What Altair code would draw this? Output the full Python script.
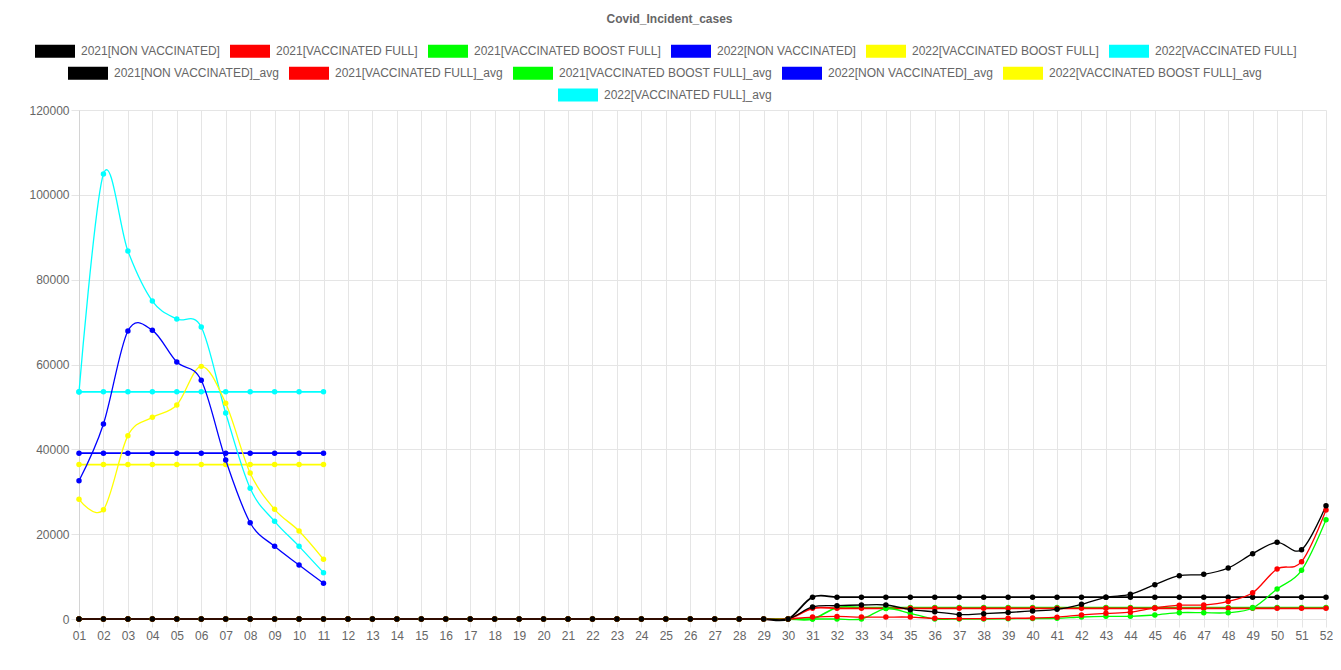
import altair as alt
import pandas as pd

WEEKS = ["01", "02", "03", "04", "05", "06", "07", "08", "09", "10",
         "11", "12", "13", "14", "15", "16", "17", "18", "19", "20",
         "21", "22", "23", "24", "25", "26", "27", "28", "29", "30",
         "31", "32", "33", "34", "35", "36", "37", "38", "39", "40",
         "41", "42", "43", "44", "45", "46", "47", "48", "49", "50",
         "51", "52"]

DATA_NAMES = ["2021[NON VACCINATED]", "2021[VACCINATED FULL]", "2021[VACCINATED BOOST FULL]",
              "2022[NON VACCINATED]", "2022[VACCINATED BOOST FULL]", "2022[VACCINATED FULL]"]
AVG_NAMES = [n + "_avg" for n in DATA_NAMES]
COLORS = ["#000000", "#ff0000", "#00ff00", "#0000ff", "#ffff00", "#00ffff"]

Z30 = [0] * 30
# 2021 series (weeks 01-52)
nv2021 = Z30 + [2830, 3140, 3300, 3300, 2200, 1700, 1050, 1250, 1530, 1900, 2280, 3460,
                5120, 5820, 8090, 10210, 10530, 12020, 15400, 18070, 16340, 26710]
vf2021 = Z30 + [450, 600, 450, 450, 450, 150, 100, 100, 160, 240, 430, 950,
                1330, 1600, 2600, 3250, 3300, 4150, 6170, 11790, 13510, 25700]
vbf2021 = Z30 + [0, 0, 0, 2450, 1340, 0, 0, 0, 50, 100, 160, 470,
                 630, 630, 940, 1490, 1490, 1490, 2590, 7070, 11480, 23400]
# 2022 series (weeks 01-11 only)
nv2022 = [32600, 45970, 67900, 68050, 60580, 56270, 37480, 22700, 17130, 12730, 8410]
vbf2022 = [28210, 25770, 43220, 47540, 50450, 59560, 50840, 34420, 25850, 20740, 14070]
vf2022 = [53500, 104900, 86750, 74960, 70720, 68840, 48560, 30800, 23030, 17130, 10920]

# averages
nv2021_avg = Z30 + [5150] * 22
vf2021_avg = Z30 + [2520] * 22
vbf2021_avg = Z30 + [0] + [2700] * 21
nv2022_avg = [39100] * 11
vbf2022_avg = [36400] * 11
vf2022_avg = [53550] * 11

DATA_SERIES = [nv2021, vf2021, vbf2021, nv2022, vbf2022, vf2022]
AVG_SERIES = [nv2021_avg, vf2021_avg, vbf2021_avg, nv2022_avg, vbf2022_avg, vf2022_avg]


def frame(names, series):
    rows = []
    # reverse order so the first dataset is drawn on top (as in Chart.js)
    for name, vals in reversed(list(zip(names, series))):
        for w, v in zip(WEEKS, vals):
            if v is not None:
                rows.append({"series": name, "week": w, "value": v})
    return pd.DataFrame(rows)


data_df = frame(DATA_NAMES, DATA_SERIES)
avg_df = frame(AVG_NAMES, AVG_SERIES)
avg_df_a = avg_df[avg_df["series"].isin(AVG_NAMES[:5])]
avg_df_b = avg_df[avg_df["series"] == AVG_NAMES[5]]

FONT = "Liberation Sans"
GRID = "#e5e5e5"
RECT = "M-1,-0.325H1V0.325H-1Z"

x_enc = alt.X("week:O", sort=WEEKS,
              scale=alt.Scale(type="point", padding=0),
              axis=alt.Axis(title=None, labelAngle=0, grid=True, gridColor=GRID,
                            tickColor=GRID, tickSize=8, labelPadding=3,
                            labelFont=FONT, labelFontSize=12, labelColor="#666",
                            domain=False))
y_enc = alt.Y("value:Q",
              scale=alt.Scale(domain=[0, 120000], nice=False),
              axis=alt.Axis(title=None, values=[0, 20000, 40000, 60000, 80000, 100000, 120000],
                            format="d", grid=True, gridColor=GRID, tickColor=GRID,
                            tickSize=8, labelPadding=2, labelFont=FONT, labelFontSize=12,
                            labelColor="#666", domainColor="#d4d4d4"))


def legend(x, y):
    return alt.Legend(orient="none", legendX=x, legendY=y, direction="horizontal",
                      title=None, symbolType=RECT, symbolSize=1600, symbolStrokeWidth=0,
                      symbolOpacity=1, labelFont=FONT, labelFontSize=12, labelColor="#666",
                      labelOffset=6, columnPadding=10, labelLimit=400, padding=0)


def color(names, colors, leg):
    return alt.Color("series:N", scale=alt.Scale(domain=names, range=colors), legend=leg)


avg_lines = alt.Chart(avg_df).mark_line(interpolate="cardinal", strokeWidth=1.8).encode(
    x=x_enc, y=y_enc, color=color(AVG_NAMES, COLORS, None), detail="series:N")
avg_pts_a = alt.Chart(avg_df_a).mark_circle(size=30, opacity=1).encode(
    x=x_enc, y=y_enc, color=color(AVG_NAMES[:5], COLORS[:5], legend(-11, -57)))
avg_pts_b = alt.Chart(avg_df_b).mark_circle(size=30, opacity=1).encode(
    x=x_enc, y=y_enc, color=color(AVG_NAMES[5:], COLORS[5:], legend(479, -35)))
data_lines = alt.Chart(data_df).mark_line(interpolate="cardinal", strokeWidth=1.3).encode(
    x=x_enc, y=y_enc, color=color(DATA_NAMES, COLORS, None), detail="series:N")
data_pts = alt.Chart(data_df).mark_circle(size=30, opacity=1).encode(
    x=x_enc, y=y_enc, color=color(DATA_NAMES, COLORS, legend(-44, -79)))

chart = alt.layer(avg_lines, avg_pts_a, avg_pts_b, data_lines, data_pts).resolve_scale(
    color="independent"
).properties(
    width=1247, height=509,
    autosize=alt.AutoSizeParams(type="none"),
    padding={"left": 71, "top": 102, "right": 7, "bottom": 30},
    title=alt.Title("Covid_Incident_cases", fontSize=12, fontWeight="bold", color="#666",
                    font=FONT, anchor="middle", dx=-33, dy=-1),
).configure_view(stroke=None)

chart.save("out.html", embed_options={"renderer": "svg", "actions": False})
